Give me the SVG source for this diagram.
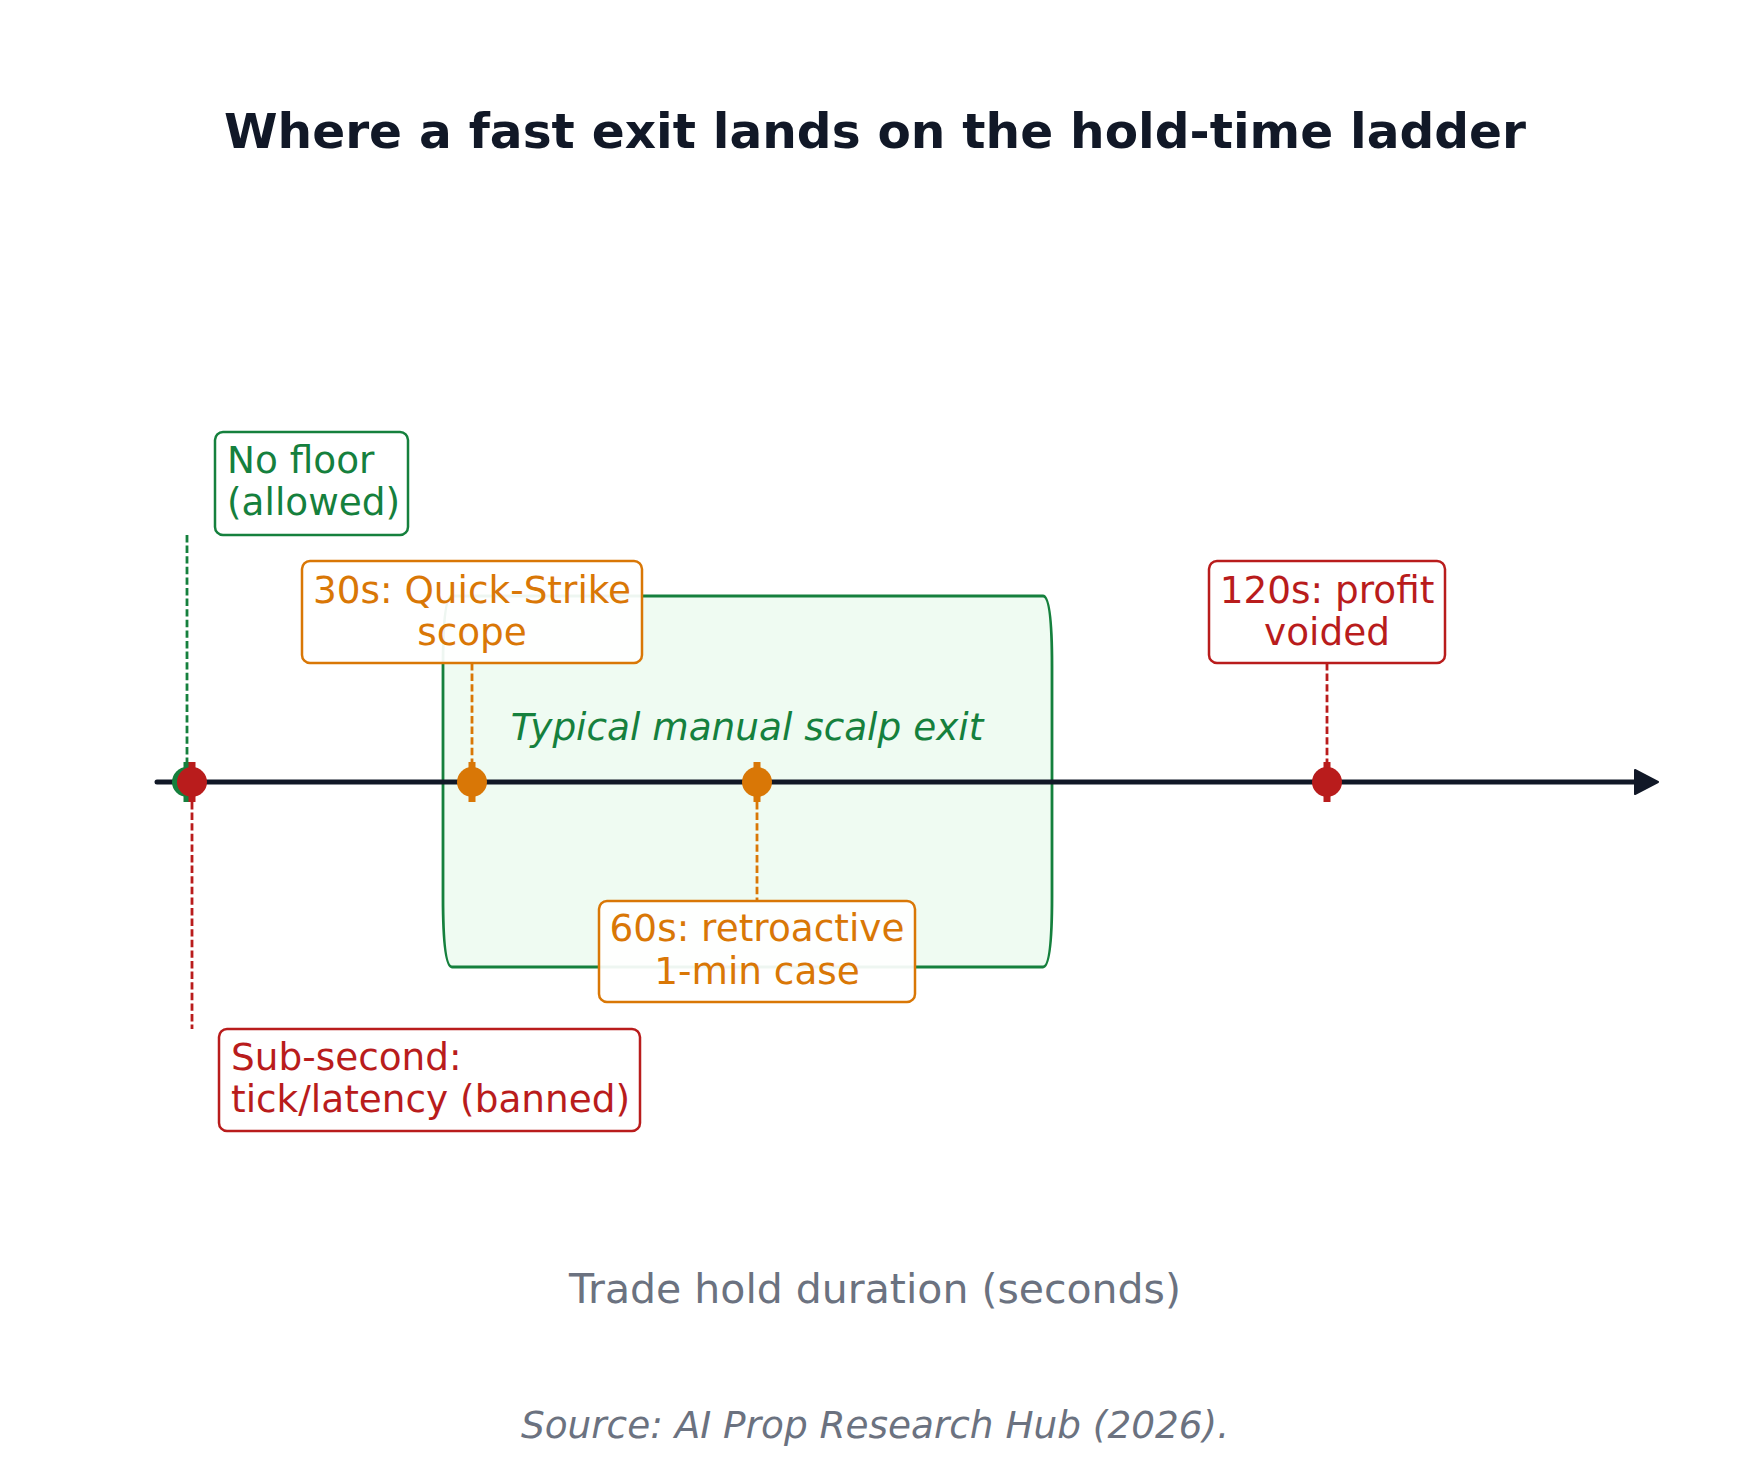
<svg xmlns="http://www.w3.org/2000/svg" width="1750" height="1481" viewBox="0 0 1750 1481">
  <style>
    text { font-family: "DejaVu Sans", "Liberation Sans", sans-serif; }
    .title { font-size: 48.6px; font-weight: bold; fill: #111827; }
    .lbl { font-size: 37.4px; }
    .axislbl { font-size: 41px; fill: #6b7280; }
    .src { font-size: 37.4px; font-style: italic; fill: #6b7280; }
    .box { fill: #ffffff; fill-opacity: 0.93; stroke-width: 2.5; }
    .lead { fill: none; stroke-width: 2.8; stroke-dasharray: 7.4 3.2; }
    .g { fill: #15803d; } .gs { stroke: #15803d; }
    .o { fill: #d97706; } .os { stroke: #d97706; }
    .r { fill: #b91c1c; } .rs { stroke: #b91c1c; }
  </style>

  <rect width="1750" height="1481" fill="#ffffff"/>

  <text class="title" x="875" y="148" text-anchor="middle">Where a fast exit lands on the hold-time ladder</text>

  <!-- shaded band: typical manual scalp exit window -->
  <g id="scalp-band">
    <path d="M452,596 L1043,596 Q1052,596 1052,666 L1052,897 Q1052,967 1043,967 L452,967 Q443,967 443,897 L443,666 Q443,596 452,596 Z" fill="#effbf2" stroke="#15803d" stroke-width="2.8"/>
    <text class="lbl g" x="747" y="740" text-anchor="middle" font-style="italic">Typical manual scalp exit</text>
  </g>

  <!-- time axis -->
  <g id="axis">
    <line x1="157" y1="782" x2="1642" y2="782" stroke="#111827" stroke-width="5" stroke-linecap="round"/>
    <polygon points="1635,770 1658,782 1635,794" fill="#111827" stroke="#111827" stroke-width="2" stroke-linejoin="round"/>
  </g>

  <!-- leader lines from each marker to its label -->
  <g id="connectors">
    <line class="lead gs" x1="187" y1="535" x2="187" y2="762"/>
    <line class="lead rs" x1="192" y1="802" x2="192" y2="1029"/>
    <line class="lead os" x1="472" y1="663" x2="472" y2="762"/>
    <line class="lead os" x1="757" y1="802" x2="757" y2="901"/>
    <line class="lead rs" x1="1327" y1="663" x2="1327" y2="762"/>
  </g>

  <!-- markers on the axis -->
  <g id="marker-0s">
    <rect class="g" x="183.5" y="762" width="7" height="40"/>
    <circle class="g" cx="187" cy="782" r="15"/>
  </g>
  <g id="marker-subsecond">
    <rect class="r" x="188.5" y="762" width="7" height="40"/>
    <circle class="r" cx="192" cy="782" r="15"/>
  </g>
  <g id="marker-30s">
    <rect class="o" x="468.5" y="762" width="7" height="40"/>
    <circle class="o" cx="472" cy="782" r="15"/>
  </g>
  <g id="marker-60s">
    <rect class="o" x="753.5" y="762" width="7" height="40"/>
    <circle class="o" cx="757" cy="782" r="15"/>
  </g>
  <g id="marker-120s">
    <rect class="r" x="1323.5" y="762" width="7" height="40"/>
    <circle class="r" cx="1327" cy="782" r="15"/>
  </g>

  <!-- label boxes -->
  <g id="label-no-floor">
    <rect class="box gs" x="215" y="432" width="193" height="103" rx="8"/>
    <text class="lbl g" x="227" y="472.7">No floor</text>
    <text class="lbl g" x="227" y="515">(allowed)</text>
  </g>
  <g id="label-30s">
    <rect class="box os" x="302" y="561" width="340" height="102" rx="8"/>
    <text class="lbl o" x="472" y="602.7" text-anchor="middle">30s: Quick-Strike</text>
    <text class="lbl o" x="472" y="645" text-anchor="middle">scope</text>
  </g>
  <g id="label-120s">
    <rect class="box rs" x="1209" y="561" width="236" height="102" rx="8"/>
    <text class="lbl r" x="1327" y="602.7" text-anchor="middle">120s: profit</text>
    <text class="lbl r" x="1327" y="645" text-anchor="middle">voided</text>
  </g>
  <g id="label-60s">
    <rect class="box os" x="599" y="901" width="316" height="101" rx="8"/>
    <text class="lbl o" x="757" y="941" text-anchor="middle">60s: retroactive</text>
    <text class="lbl o" x="757" y="984" text-anchor="middle">1-min case</text>
  </g>
  <g id="label-subsecond">
    <rect class="box rs" x="219" y="1029" width="421" height="102" rx="8"/>
    <text class="lbl r" x="231" y="1070">Sub-second:</text>
    <text class="lbl r" x="231" y="1112">tick/latency (banned)</text>
  </g>

  <text class="axislbl" x="875" y="1303" text-anchor="middle">Trade hold duration (seconds)</text>
  <text class="src" x="875" y="1438" text-anchor="middle">Source: AI Prop Research Hub (2026).</text>
</svg>
